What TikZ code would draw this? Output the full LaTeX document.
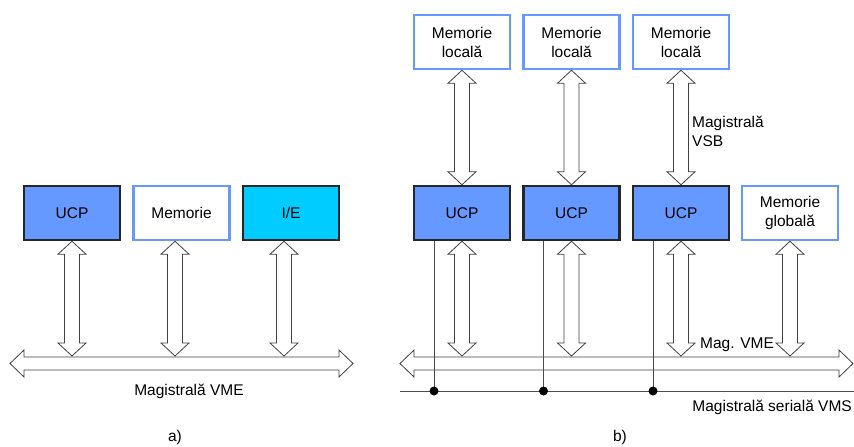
\documentclass[tikz,border=0pt]{standalone}
\usepackage{fontspec}
\setmainfont{Liberation Sans}
\usepackage{tikz}
\usetikzlibrary{calc}
\definecolor{ucpblue}{HTML}{6699FF}
\definecolor{iecyan}{HTML}{00CCFF}
\tikzstyle{box}=[shape=rectangle,minimum width=96pt,minimum height=54pt,line width=2.5pt,inner sep=1pt,align=center,font=\fontsize{15.5}{19}\selectfont]
\tikzstyle{cpu}=[box,draw=black!85,fill=ucpblue]
\tikzstyle{mem}=[box,draw=ucpblue,fill=white]
\tikzstyle{io}=[box,draw=black!85,fill=iecyan]
\tikzstyle{bus}=[draw=black!75,fill=white,line width=0.8pt]
\tikzstyle{txt}=[font=\fontsize{15.5}{19}\selectfont,inner sep=0pt]
\tikzstyle{serial}=[draw=black!70,line width=0.8pt]
% vertical double arrow, top to bottom
\newcommand{\vbus}[2]{\path[bus] let \p1=(#1), \p2=(#2) in
    (\x1,\y1) -- (\x1+14pt,\y1-13pt) -- (\x1+7.5pt,\y1-13pt) -- (\x1+7.5pt,\y2+13pt)
    -- (\x1+14pt,\y2+13pt) -- (\x1,\y2) -- (\x1-14pt,\y2+13pt) -- (\x1-7.5pt,\y2+13pt)
    -- (\x1-7.5pt,\y1-13pt) -- (\x1-14pt,\y1-13pt) -- cycle;}
% horizontal double arrow, left to right
\newcommand{\hbus}[2]{\path[bus] let \p1=(#1), \p2=(#2) in
    (\x1,\y1) -- (\x1+14pt,\y1+13.5pt) -- (\x1+14pt,\y1+6.5pt) -- (\x2-14pt,\y1+6.5pt)
    -- (\x2-14pt,\y1+13.5pt) -- (\x2,\y1) -- (\x2-14pt,\y1-13.5pt) -- (\x2-14pt,\y1-6.5pt)
    -- (\x1+14pt,\y1-6.5pt) -- (\x1+14pt,\y1-13.5pt) -- cycle;}
\begin{document}
\begin{tikzpicture}[x=1pt,y=-1pt]
    \useasboundingbox (0,0) rectangle (854,447);
    % a)
    \node[cpu] (ucpA) at (72, 213) {UCP};
    \node[mem] (memA) at (181.5, 213) {Memorie};
    \node[io] (ieA) at (291, 213) {I/E};
    \coordinate (vmeAl) at (10, 363.5);
    \coordinate (vmeAr) at (353, 363.5);
    \coordinate (vmeA) at (0, 356);
    \hbus{vmeAl}{vmeAr}
    \vbus{ucpA.south}{ucpA.south |- vmeA}
    \vbus{[xshift=-6.5pt]memA.south}{[xshift=-6.5pt]memA.south |- vmeA}
    \vbus{[xshift=-7pt]ieA.south}{[xshift=-7pt]ieA.south |- vmeA}
    \node[txt] (labA) at (189, 391) {Magistrală VME};
    \node[txt] (capA) at (175, 437) {a)};
    % b)
    \node[mem] (loc1) at (462, 42) {Memorie\\locală};
    \node[mem] (loc2) at (571.5, 42) {Memorie\\locală};
    \node[mem] (loc3) at (681, 42) {Memorie\\locală};
    \node[cpu] (ucp1) at (462, 213) {UCP};
    \node[cpu] (ucp2) at (571.5, 213) {UCP};
    \node[cpu] (ucp3) at (681, 213) {UCP};
    \node[mem] (memG) at (790, 213) {Memorie\\globală};
    \coordinate (vmeBl) at (400, 363.5);
    \coordinate (vmeBr) at (853, 363.5);
    \coordinate (vmeB) at (0, 356);
    \coordinate (vmsl) at (400, 391);
    \coordinate (vmsr) at (854, 391);
    \hbus{vmeBl}{vmeBr}
    \vbus{loc1.south}{ucp1.north}
    \vbus{loc2.south}{ucp2.north}
    \vbus{loc3.south}{ucp3.north}
    \vbus{ucp1.south}{ucp1.south |- vmeB}
    \vbus{ucp2.south}{ucp2.south |- vmeB}
    \vbus{ucp3.south}{ucp3.south |- vmeB}
    \vbus{memG.south}{memG.south |- vmeB}
    \draw[serial] (vmsl) -- (vmsr);
    \foreach \u in {ucp1,ucp2,ucp3}{
        \coordinate (d\u) at ([xshift=-28pt]\u.south |- vmsl);
        \draw[serial] ([xshift=-28pt]\u.south) -- (d\u);
        \fill (d\u) circle (4.5pt);
    }
    \node[txt,anchor=west,align=left] (vsb) at (692, 131) {Magistrală\\VSB};
    \node[txt] (vmeLab) at (737, 345) {Mag. VME};
    \node[txt,anchor=east] (vms) at (852, 407) {Magistrală serială VMS};
    \node[txt] (capB) at (620, 437) {b)};
\end{tikzpicture}
\end{document}
